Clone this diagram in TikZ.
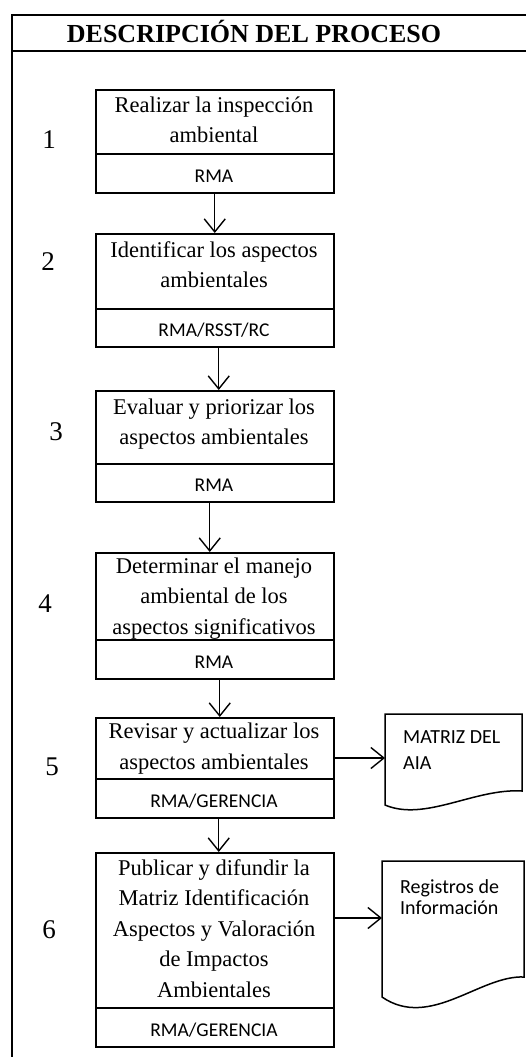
\documentclass[tikz,border=0pt]{standalone}
\usepackage{fontspec}
\setmainfont{Liberation Serif}
\newfontfamily\calib{Carlito}
\usetikzlibrary{arrows.meta}
\begin{document}
\begin{tikzpicture}[x=1pt,y=-1pt,
  part/.style={draw, line width=1.5pt, minimum width=238pt, inner sep=0pt, anchor=north west},
  txt/.style={align=center, inner sep=0pt, font=\fontsize{22.5}{30.5}\selectfont},
  who/.style={inner sep=0pt, anchor=base, font=\calib\fontsize{19.5}{23}\selectfont},
  num/.style={inner sep=0pt, font=\fontsize{27}{30}\selectfont},
  arr/.style={line width=1.4pt, -{Straight Barb[length=13pt,width=21pt,line width=1.4pt]}},
  doc/.style={line width=1.5pt, line join=miter},
  doctxt/.style={align=left, inner sep=0pt, anchor=north west, font=\calib\fontsize{20}{26}\selectfont}]
\useasboundingbox (0,0) rectangle (526,1057);
% frame
\draw[line width=2.6pt, line join=miter] (12,1060) -- (12,15) -- (530,15);
\draw[line width=1.6pt] (12,51) -- (530,51);
\node[inner sep=0pt, anchor=base, font=\bfseries\fontsize{26}{30}\selectfont] (head) at (254,43) {DESCRIPCIÓN DEL PROCESO};
% numbers
\node[num] (n1) at (49,140) {1};
\node[num] (n2) at (48,262) {2};
\node[num] (n3) at (56,432) {3};
\node[num] (n4) at (45,604) {4};
\node[num] (n5) at (52,767) {5};
\node[num] (n6) at (49,930) {6};
% boxes
\node[part, minimum height=64pt] (t1) at (95,89) {};
\node[part, minimum height=39pt] (r1) at (95,153) {};
\node[part, minimum height=75pt] (t2) at (95,233) {};
\node[part, minimum height=38pt] (r2) at (95,308) {};
\node[part, minimum height=73pt] (t3) at (95,390) {};
\node[part, minimum height=38pt] (r3) at (95,463) {};
\node[part, minimum height=87pt] (t4) at (95,552) {};
\node[part, minimum height=39pt] (r4) at (95,639) {};
\node[part, minimum height=61pt] (t5) at (95,717) {};
\node[part, minimum height=39pt] (r5) at (95,778) {};
\node[part, minimum height=155pt] (t6) at (95,852) {};
\node[part, minimum height=39pt] (r6) at (95,1007) {};
% texts
\node[txt] (x1) at (214,119.8) {Realizar la inspección\\ambiental};
\node[txt] (x2) at (214,264.8) {Identificar los aspectos\\ambientales};
\node[txt] (x3) at (214,424.2) {Evaluar y priorizar los\\aspectos ambientales};
\node[txt] (x4) at (214,598.2) {Determinar el manejo\\ambiental de los\\aspectos significativos};
\node[txt] (x5) at (214,748.7) {Revisar y actualizar los\\aspectos ambientales};
\node[txt] (x6) at (214,928.3) {Publicar y difundir la\\Matriz Identificación\\Aspectos y Valoración\\de Impactos\\Ambientales};
\node[who] (w1) at (214,182) {RMA};
\node[who] (w2) at (214,336.5) {RMA/RSST/RC};
\node[who] (w3) at (214,491.5) {RMA};
\node[who] (w4) at (214,668) {RMA};
\node[who] (w5) at (214,807) {RMA/GERENCIA};
\node[who] (w6) at (214,1036) {RMA/GERENCIA};
% vertical arrows
\draw[arr] (r1.south) -- (t2.north);
\draw[arr] ([xshift=4pt]r2.south) -- ([xshift=4pt]t3.north);
\draw[arr] ([xshift=-5pt]r3.south) -- ([xshift=-5pt]t4.north);
\draw[arr] ([xshift=5pt]r4.south) -- ([xshift=5pt]t5.north);
\draw[arr] ([xshift=4pt]r5.south) -- ([xshift=4pt]t6.north);
% documents
\draw[doc] (385,805) -- (385,714) -- (522,714) -- (522,791) .. controls (475,788) and (425,822) .. (385,805) -- cycle;
\draw[doc] (382,997) -- (382,861) -- (524,861) -- (524,977) .. controls (480,975) and (430,1030) .. (382,997) -- cycle;
\node[doctxt] (d1t) at (403,730.3) {MATRIZ DEL\\AIA};
\node[doctxt, font=\calib\fontsize{20}{21.5}\selectfont] (d2t) at (400,879.2) {Registros de\\Información};
\coordinate (d1in) at (385,758);
\coordinate (d2in) at (382,918);
\draw[arr] (t5.east |- d1in) -- (d1in);
\draw[arr] (t6.east |- d2in) -- (d2in);
\end{tikzpicture}
\end{document}
